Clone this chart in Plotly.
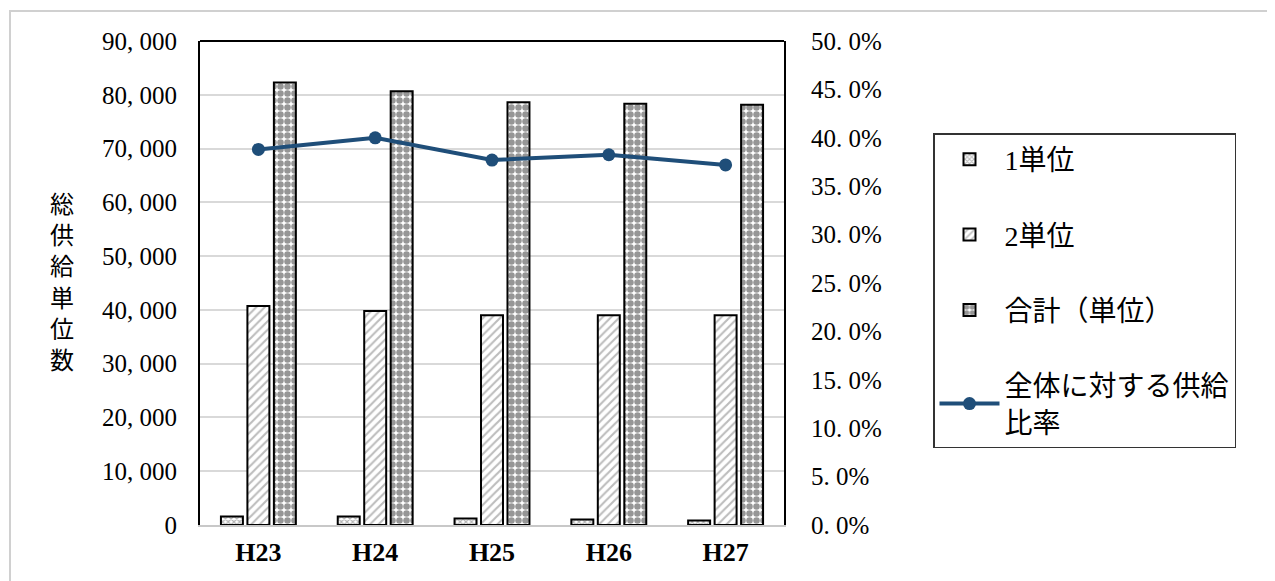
import plotly.graph_objects as go

categories = ["H23", "H24", "H25", "H26", "H27"]
unit1 = [1580, 1580, 1200, 1000, 850]
unit2 = [40700, 39800, 39000, 39000, 39000]
total = [82300, 80640, 78600, 78350, 78160]
ratio = [0.388, 0.400, 0.377, 0.3825, 0.372]

left_ticks = [0, 10000, 20000, 30000, 40000, 50000, 60000, 70000, 80000, 90000]
left_text = ["0", "10, 000", "20, 000", "30, 000", "40, 000", "50, 000",
             "60, 000", "70, 000", "80, 000", "90, 000"]
right_ticks = [0, 0.05, 0.10, 0.15, 0.20, 0.25, 0.30, 0.35, 0.40, 0.45, 0.50]
right_text = ["0. 0%", "5. 0%", "10. 0%", "15. 0%", "20. 0%", "25. 0%",
              "30. 0%", "35. 0%", "40. 0%", "45. 0%", "50. 0%"]

names = ["1単位", "2単位", "合計（単位）", "全体に対する供給<br>比率"]

serif = "Liberation Serif, DejaVu Serif, Noto Sans CJK JP, serif"
jp = "Liberation Serif, Noto Sans CJK JP, sans-serif"

# page offset (body margin) compensation
L, R, T, B = 192, 499, 33, 64
PW = 1275 - L - R
PH = 581 - T - B

fig = go.Figure()
fig.add_trace(go.Bar(
    x=categories, y=unit1, name=names[0], legendgroup="a",
    marker=dict(color="white", line=dict(color="black", width=2),
                pattern=dict(shape="x", fgcolor="#6a6a6a", bgcolor="white", size=4, solidity=0.5)),
))
fig.add_trace(go.Bar(
    x=categories, y=unit2, name=names[1], legendgroup="b",
    marker=dict(color="white", line=dict(color="black", width=2),
                pattern=dict(shape="/", fgcolor="#7a7a7a", bgcolor="white", size=6, solidity=0.35)),
))
fig.add_trace(go.Bar(
    x=categories, y=total, name=names[2], legendgroup="c",
    marker=dict(color="white", line=dict(color="black", width=2),
                pattern=dict(shape=".", fgcolor="#2e2e2e", bgcolor="white", size=7, solidity=0.68)),
))
fig.add_trace(go.Scatter(
    x=categories, y=ratio, name=names[3], legendgroup="d", yaxis="y2",
    mode="lines+markers",
    line=dict(color="#1F4E79", width=4),
    marker=dict(color="#1F4E79", size=13),
))

fig.update_layout(
    width=1275, height=581,
    margin=dict(l=L, r=R, t=T, b=B, autoexpand=False),
    paper_bgcolor="white", plot_bgcolor="white",
    barmode="group", bargap=0.32, bargroupgap=0.17,
    showlegend=True,
    legend=dict(
        x=(925 - L) / PW, y=(581 - B - 125) / PH, xanchor="left", yanchor="top",
        bordercolor="#333333", borderwidth=1.5,
        font=dict(family=jp, size=28, color="black"),
        tracegroupgap=36, traceorder="grouped",
        itemwidth=60,
    ),
    xaxis=dict(
        showgrid=False, showline=True, linecolor="#c8c8c8", linewidth=2,
        ticks="", tickfont=dict(family=serif, size=26, color="black", weight="bold"),
        ticklabelstandoff=3,
    ),
    yaxis=dict(
        range=[0, 90000], tickvals=left_ticks, ticktext=left_text,
        showgrid=True, gridcolor="#d9d9d9", gridwidth=2,
        showline=True, linecolor="black", linewidth=2, zeroline=False,
        ticks="", tickfont=dict(family=serif, size=25, color="black"),
        ticklabelstandoff=16,
    ),
    yaxis2=dict(
        range=[0, 0.5], tickvals=right_ticks, ticktext=right_text,
        overlaying="y", side="right", showgrid=False,
        showline=True, linecolor="black", linewidth=2, zeroline=False,
        ticks="", tickfont=dict(family=serif, size=25, color="black"),
        ticklabelstandoff=20,
    ),
    annotations=[dict(
        text="総<br>供<br>給<br>単<br>位<br>数", xref="paper", yref="paper",
        x=(54 - L) / PW, y=0.5, xanchor="center", yanchor="middle", showarrow=False,
        font=dict(family=jp, size=24, color="black"), align="center",
    )],
    shapes=[
        dict(type="line", xref="paper", yref="paper", x0=0, x1=1, y0=1, y1=1,
             line=dict(color="black", width=2)),
        dict(type="rect", xref="paper", yref="paper",
             x0=(2 - L) / PW, x1=(1300 - L) / PW,
             y0=(581 - B - 620) / PH, y1=(581 - B - 3) / PH,
             line=dict(color="#d0d0d0", width=2), layer="below"),
    ],
)

fig.write_html("out.html")
